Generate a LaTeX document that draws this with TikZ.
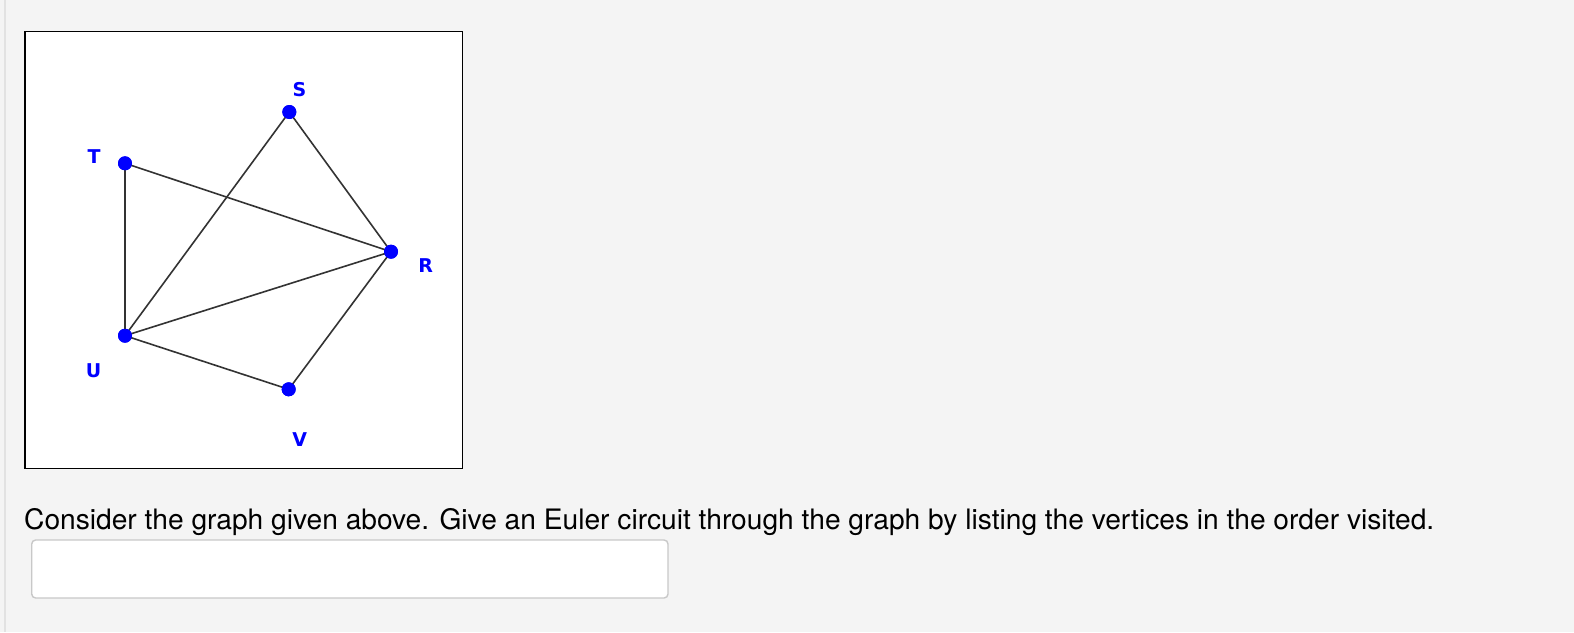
\documentclass[tikz,border=0pt]{standalone}
\usepackage{fontspec}
\setmainfont{TeX Gyre Heros}
\newfontfamily\labelfont{DejaVu Sans}
\definecolor{pagebg}{HTML}{F4F4F4}
\definecolor{edgeline}{HTML}{E2E2E2}
\definecolor{inputborder}{HTML}{C8C8C8}
\definecolor{vblue}{HTML}{0000FF}
\tikzset{
  vertex/.style={circle, fill=vblue, inner sep=0pt, minimum size=14pt},
  vlabel/.style={text=vblue, font=\labelfont\bfseries\fontsize{19}{19}\selectfont, inner sep=0pt},
  gedge/.style={draw=black!80, line width=1.6pt},
}
\begin{document}
\begin{tikzpicture}[x=1pt,y=-1pt]
\useasboundingbox (0,0) rectangle (1574,632);
\fill[pagebg] (0,0) rectangle (1574,632);
\draw[edgeline, line width=2pt] (5,0) -- (5,632);
% graph frame
\draw[fill=white, line width=1.8pt] (24.7,31.5) rectangle (462.5,468.5);
% vertices
\node[vertex] (S) at (289.3,112) {};
\node[vertex] (T) at (125,163.3) {};
\node[vertex] (R) at (391,251.7) {};
\node[vertex] (U) at (125,335.7) {};
\node[vertex] (V) at (288.7,389.3) {};
% edges
\draw[gedge] (T.center) -- (U.center);
\draw[gedge] (T.center) -- (R.center);
\draw[gedge] (S.center) -- (U.center);
\draw[gedge] (S.center) -- (R.center);
\draw[gedge] (U.center) -- (R.center);
\draw[gedge] (U.center) -- (V.center);
\draw[gedge] (V.center) -- (R.center);
% redraw dots on top
\foreach \n in {S,T,R,U,V} \fill[vblue] (\n) circle (7pt);
% labels
\node[vlabel] (lS) at (299.5,89.5) {S};
\node[vlabel] (lT) at (94,157) {T};
\node[vlabel] (lR) at (425.7,265.7) {R};
\node[vlabel] (lU) at (93.7,371) {U};
\node[vlabel] (lV) at (299.7,439.5) {V};
% question
\node[anchor=base west, inner sep=0pt] (q) at (24,529) {\resizebox{1410pt}{!}{Consider the graph given above. Give an Euler circuit through the graph by listing the vertices in the order visited.}};
% input box
\draw[inputborder, fill=white, line width=1.4pt, rounded corners=4pt] (31.7,540) rectangle (668,598);
\end{tikzpicture}
\end{document}
